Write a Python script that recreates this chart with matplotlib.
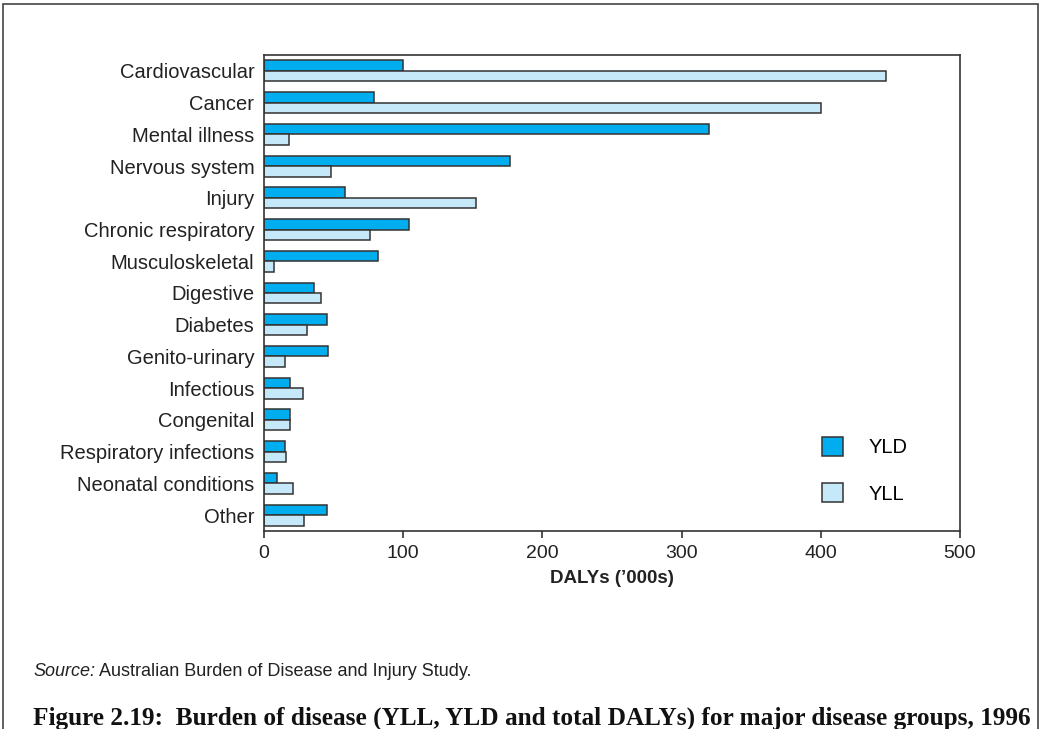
import matplotlib
matplotlib.use("Agg")
import matplotlib.pyplot as plt
from matplotlib.patches import Patch, Rectangle
import numpy as np

plt.rcParams['font.family'] = ['Liberation Sans', 'DejaVu Sans']

categories = [
    "Cardiovascular", "Cancer", "Mental illness", "Nervous system", "Injury",
    "Chronic respiratory", "Musculoskeletal", "Digestive", "Diabetes",
    "Genito-urinary", "Infectious", "Congenital", "Respiratory infections",
    "Neonatal conditions", "Other",
]
yld = [100, 79, 320, 177, 58, 104, 82, 36, 45, 46, 19, 19, 15, 9, 45]
yll = [447, 400, 18, 48, 152, 76, 7, 41, 31, 15, 28, 19, 16, 21, 29]
xticks = [0, 100, 200, 300, 400, 500]

YLD_COLOR = "#00AEEF"
YLL_COLOR = "#C6E9F9"
EDGE = "#333333"

fig = plt.figure(figsize=(10.41, 7.29), dpi=100)
ax = fig.add_axes([264 / 1041, 1 - 531 / 729, (960 - 264) / 1041, (531 - 55) / 729])

pos = np.arange(len(categories))
h = 0.33
ax.barh(pos - h / 2, yld, height=h, color=YLD_COLOR, edgecolor=EDGE, linewidth=1.1, label="YLD")
ax.barh(pos + h / 2, yll, height=h, color=YLL_COLOR, edgecolor=EDGE, linewidth=1.1, label="YLL")

ax.set_ylim(len(categories) - 0.5, -0.5)
ax.set_xlim(0, 500)
ax.set_yticks(pos)
ax.set_yticklabels(categories, fontsize=14.5, color="#222222")
ax.set_xticks(xticks)
ax.set_xticklabels([str(t) for t in xticks], fontsize=14, color="#222222")
ax.tick_params(axis="y", length=0, pad=7)
ax.tick_params(axis="x", length=5, width=1.2, color=EDGE, pad=5, direction="out")
for s in ax.spines.values():
    s.set_color(EDGE)
    s.set_linewidth(1.2)

ax.set_xlabel("DALYs (\u2019000s)", fontsize=13.5, fontweight="bold", color="#222222", labelpad=6)

handles = [Patch(facecolor=YLD_COLOR, edgecolor=EDGE, linewidth=1.1),
           Patch(facecolor=YLL_COLOR, edgecolor=EDGE, linewidth=1.1)]
fig.legend(handles, ["YLD", "YLL"], loc="upper left",
           bbox_to_anchor=(822 / 1041, 1 - 437 / 729), frameon=False,
           fontsize=14.5, handlelength=1.05, handleheight=1.05,
           labelspacing=1.3, handletextpad=1.25, borderpad=0, borderaxespad=0)

# source note and figure caption
src = fig.text(33 / 1041, 1 - 676 / 729, "Source:", fontsize=13, style="italic",
               va="baseline", ha="left", color="#222222")
ax.annotate(" Australian Burden of Disease and Injury Study.", xy=(1, 0), xycoords=src,
            fontsize=13, va="bottom", ha="left", color="#222222", annotation_clip=False)
fig.text(33 / 1041, 1 - 718 / 729,
         "Figure 2.19:  Burden of disease (YLL, YLD and total DALYs) for major disease groups, 1996",
         fontsize=18.2, fontweight="bold", family=["Liberation Serif", "DejaVu Serif"],
         va="center", ha="left", color="#111111")

# outer frame
fig.patches.append(Rectangle((3 / 1041, -0.02), (1038 - 3) / 1041, 1.02 - 4 / 729,
                             transform=fig.transFigure, fill=False,
                             edgecolor="#444444", linewidth=1.2))

fig.savefig("out.png", dpi=100)
